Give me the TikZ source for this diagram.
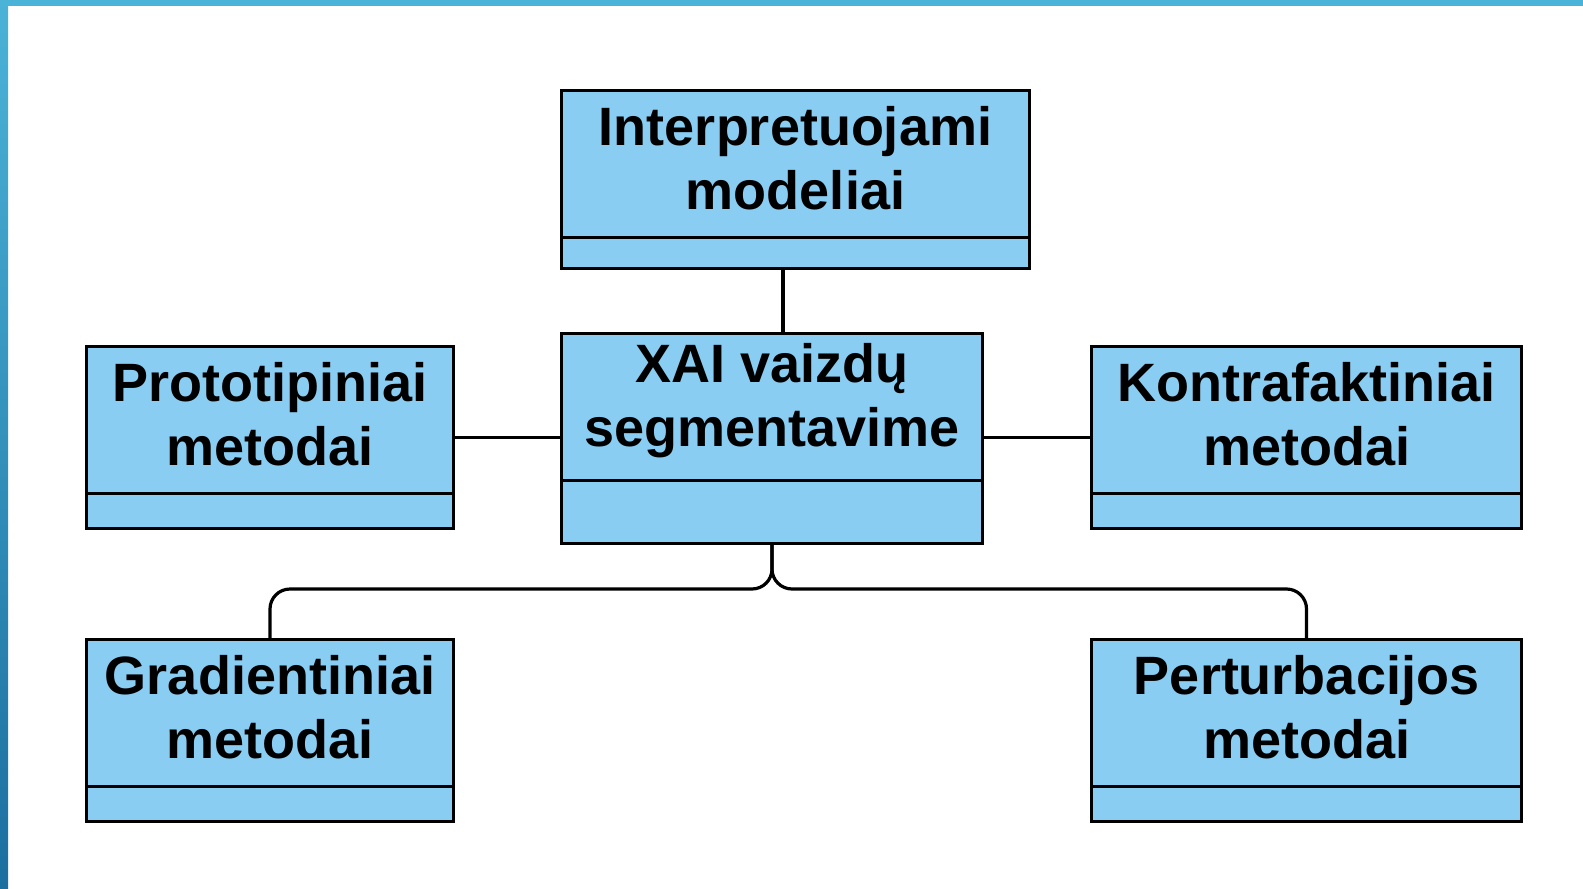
\documentclass[tikz,border=0pt]{standalone}
\usepackage{fontspec}
\setmainfont{Liberation Sans}
\usepackage{tikz}
\usetikzlibrary{shapes}
\definecolor{boxblue}{RGB}{138,205,242}
\definecolor{bartop}{RGB}{75,179,215}
\definecolor{barbottom}{RGB}{27,111,160}
\newcommand{\headcell}[2]{\parbox[c][72pt][c]{#1}{\centering #2\par\vspace{6pt}}}
\newcommand{\emptycell}[2]{\parbox[c][#2][c]{#1}{\centering\strut}}

\begin{document}
\begin{tikzpicture}[x=0.5pt,y=-0.5pt]
\tikzstyle{umlbox}=[rectangle split, rectangle split parts=2, draw, fill=boxblue, line width=1.5pt, inner sep=0pt, anchor=north west, font=\bfseries\fontsize{27}{32}\selectfont]
\tikzstyle{wire}=[line width=1.6pt, rounded corners=10pt]
\useasboundingbox (0,0) rectangle (1583,888);
% frame bars
\shade[top color=bartop, bottom color=barbottom] (0,0) rectangle (8,888);
\fill[bartop] (0,0) rectangle (1583,6);
% boxes
\node[umlbox] (interp) at (560,89) {\headcell{234pt}{Interpretuojami\\modeliai}\nodepart{two}\emptycell{234pt}{14pt}};
\node[umlbox] (xai) at (560,332) {\headcell{210.5pt}{XAI vaizdų\\segmentavime}\nodepart{two}\emptycell{210.5pt}{30pt}};
\node[umlbox] (proto) at (85,345) {\headcell{183.5pt}{Prototipiniai\\metodai}\nodepart{two}\emptycell{183.5pt}{16pt}};
\node[umlbox] (kontra) at (1090,345) {\headcell{215pt}{Kontrafaktiniai\\metodai}\nodepart{two}\emptycell{215pt}{16pt}};
\node[umlbox] (grad) at (85,638) {\headcell{183.5pt}{Gradientiniai\\metodai}\nodepart{two}\emptycell{183.5pt}{16pt}};
\node[umlbox] (pert) at (1090,638) {\headcell{215pt}{Perturbacijos\\metodai}\nodepart{two}\emptycell{215pt}{16pt}};
% links
\coordinate (topjoin) at (783,300);
\coordinate (bus) at (770,589);
\draw[wire] (topjoin |- interp.south) -- (topjoin |- xai.north);
\draw[wire] (proto.east) -- (proto.east -| xai.west);
\draw[wire] (kontra.west) -- (kontra.west -| xai.east);
\draw[wire] (xai.south) |- (grad.north |- bus) -- (grad.north);
\draw[wire] (xai.south) |- (pert.north |- bus) -- (pert.north);
\end{tikzpicture}
\end{document}
